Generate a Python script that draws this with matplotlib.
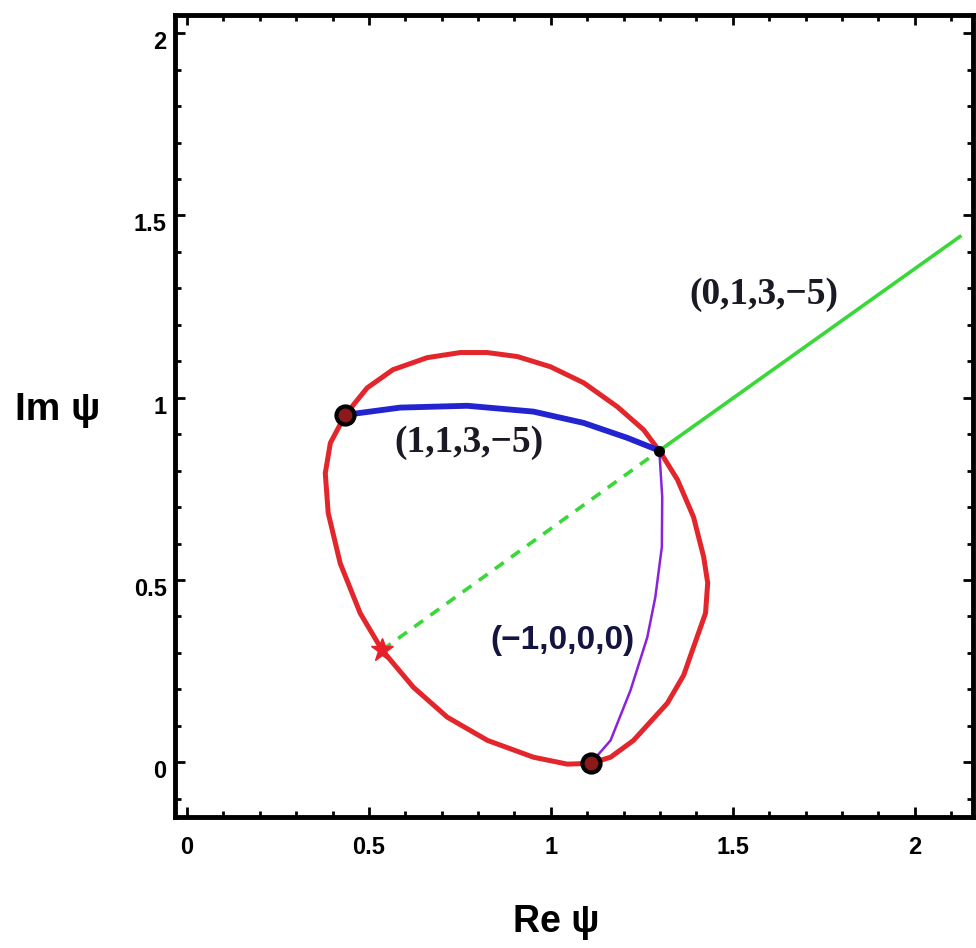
import numpy as np
import matplotlib.pyplot as plt
from matplotlib.ticker import MultipleLocator
from matplotlib.transforms import ScaledTranslation

# ==================== data ====================
# red closed curve (traced clockwise from the upper-left circle)
red_x = [0.435, 0.495, 0.566, 0.660, 0.751, 0.825, 0.908, 0.999, 1.090, 1.183,
         1.255, 1.302, 1.348, 1.392, 1.420, 1.431, 1.425, 1.392, 1.365, 1.320,
         1.227, 1.164, 1.109, 1.045, 0.952, 0.826, 0.715, 0.622, 0.536, 0.476,
         0.421, 0.388, 0.380, 0.394, 0.435]
red_y = [0.953, 1.027, 1.077, 1.110, 1.124, 1.124, 1.113, 1.085, 1.041, 0.975,
         0.912, 0.849, 0.775, 0.673, 0.563, 0.492, 0.409, 0.316, 0.239, 0.162,
         0.060, 0.014, -0.003, -0.005, 0.014, 0.060, 0.124, 0.206, 0.308, 0.409,
         0.546, 0.684, 0.793, 0.876, 0.953]

# blue path (1,1,3,-5)
blue_x = [0.435, 0.586, 0.770, 0.952, 1.090, 1.210, 1.298]
blue_y = [0.953, 0.973, 0.978, 0.962, 0.931, 0.890, 0.855]

# purple path (-1,0,0,0)
purple_x = [1.298, 1.306, 1.305, 1.287, 1.265, 1.219, 1.164, 1.109]
purple_y = [0.855, 0.728, 0.591, 0.453, 0.343, 0.198, 0.060, -0.003]

# green ray (0,1,3,-5): star -> junction (dashed), junction -> end (solid)
green_dash_x = [0.536, 1.298]
green_dash_y = [0.308, 0.855]
green_solid_x = [1.298, 2.124]
green_solid_y = [0.855, 1.442]

circle_x = [0.435, 1.109]
circle_y = [0.953, -0.003]
star_x, star_y = 0.536, 0.308
junction_x, junction_y = 1.298, 0.855

labels = ['(1,1,3,\u22125)', '(0,1,3,\u22125)', '(\u22121,0,0,0)']
label_x = [0.776, 1.585, 1.032]
label_y = [0.876, 1.283, 0.335]

xticks = [0, 0.5, 1, 1.5, 2]
yticks = [0, 0.5, 1, 1.5, 2]
xtick_labels = ['0', '0.5', '1', '1.5', '2']
ytick_labels = ['0', '0.5', '1', '1.5', '2']

# ==================== figure ====================
plt.rcParams['font.family'] = ['Liberation Sans', 'DejaVu Sans']
plt.rcParams['font.weight'] = 'bold'

fig = plt.figure(figsize=(9.76, 9.48), dpi=100)
ax = fig.add_axes([0.1793, 0.1382, 0.8176, 0.846])

ax.plot(red_x, red_y, color='#e3262b', lw=3.6, solid_joinstyle='round', zorder=2)
ax.plot(blue_x, blue_y, color='#2323cf', lw=4.2, solid_capstyle='round',
        solid_joinstyle='round', zorder=3)
ax.plot(purple_x, purple_y, color='#8a22dc', lw=1.8, solid_joinstyle='round', zorder=3)
ax.plot(green_dash_x, green_dash_y, color='#38d838', lw=2.6, ls=(0, (3, 2.5)), zorder=3)
ax.plot(green_solid_x, green_solid_y, color='#38d838', lw=2.6, zorder=3)

ax.plot(circle_x, circle_y, 'o', ms=13, mfc='#8c1a1a', mec='black', mew=3, zorder=5)
ax.plot(junction_x, junction_y, 'o', ms=7, color='black', zorder=5)
ax.plot(star_x, star_y, '*', ms=17, color='#e8202a', zorder=5)

ax.text(label_x[0], label_y[0], labels[0], family='Liberation Serif', fontsize=27,
        fontweight='bold', color='#1a1a24', ha='center', va='center')
ax.text(label_x[1], label_y[1], labels[1], family='Liberation Serif', fontsize=27,
        fontweight='bold', color='#1a1a24', ha='center', va='center')
ax.text(label_x[2], label_y[2], labels[2], family='Liberation Sans', fontsize=24,
        fontweight='bold', color='#141440', ha='center', va='center')

ax.set_xlim(-0.033, 2.16)
ax.set_ylim(-0.15, 2.05)
ax.set_xticks(xticks)
ax.set_xticklabels(xtick_labels)
ax.set_yticks(yticks)
ax.set_yticklabels(ytick_labels)
ax.xaxis.set_minor_locator(MultipleLocator(0.1))
ax.yaxis.set_minor_locator(MultipleLocator(0.1))
ax.tick_params(which='both', direction='in', top=True, right=True, width=2, colors='black')
ax.tick_params(which='major', length=7, labelsize=17)
ax.tick_params(which='minor', length=4)
ax.tick_params(axis='x', which='major', pad=14)
ax.tick_params(axis='y', which='major', pad=6)
for s in ax.spines.values():
    s.set_linewidth(3.5)
    s.set_color('black')

# y tick labels sit a little below their ticks in the original
shift = ScaledTranslation(0, -5 / 72, fig.dpi_scale_trans)
for lab in ax.get_yticklabels():
    lab.set_transform(lab.get_transform() + shift)

fig.text(0.059, 0.567, 'Im \u03c8', fontsize=28, fontweight='bold', ha='center', va='center')
fig.text(0.570, 0.027, 'Re \u03c8', fontsize=27, fontweight='bold', ha='center', va='center')

fig.savefig('out.png', dpi=100)
